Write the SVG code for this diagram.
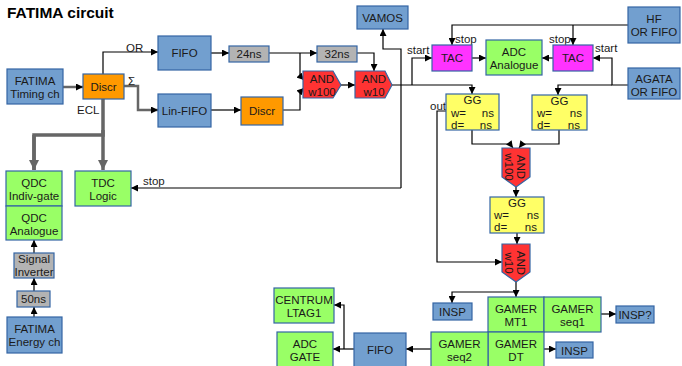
<svg xmlns="http://www.w3.org/2000/svg" width="682" height="366" viewBox="0 0 682 366">
<defs>
<marker id="ah" viewBox="0 0 10 10" refX="10" refY="5" markerWidth="8" markerHeight="7" markerUnits="userSpaceOnUse" orient="auto"><path d="M0,0 L10,5 L0,10 Z" fill="#000"/></marker>
<marker id="ahg" viewBox="0 0 10 10" refX="10" refY="5" markerWidth="10" markerHeight="10" markerUnits="userSpaceOnUse" orient="auto"><path d="M0,0 L10,5 L0,10 Z" fill="#666"/></marker>
</defs>
<style>
text{font-family:"Liberation Sans",Arial,sans-serif;font-size:11.5px;fill:#1a1a1a}
.c{text-anchor:middle}
.e{text-anchor:end}
.title{font-size:15.5px;font-weight:bold;fill:#000}
.n rect,.n polygon{stroke:#3465a4;stroke-width:1.2}
.blue{fill:#729fcf}
.org{fill:#ff9900}
.gry{fill:#b3b3b3}
.red{fill:#ff3333}
.mag{fill:#ff33ff}
.grn{fill:#99ff66}
.yel{fill:#ffff66}
.w path{fill:none;stroke:#000;stroke-width:1.2;marker-end:url(#ah)}
.w path.g{stroke:#666;stroke-width:2.5}
.w path.gg{stroke:#666;stroke-width:3.5;marker-end:url(#ahg)}
.w path.nm{marker-end:none}
</style>
<rect width="682" height="366" fill="#fff"/>
<text class="title" x="7" y="18">FATIMA circuit</text>

<g class="w" id="connectors">
<path class="g" d="M63,87 H83"/>
<path d="M103,74 V52 H158"/>
<path class="g" d="M124,86 H138 V110 H158"/>
<path class="gg nm" d="M103,99 V135 H34 V170"/>
<path class="gg" d="M34,135 V170"/>
<path class="gg" d="M103,130 V170"/>
<path d="M211,53 H229"/>
<path d="M269,53 H317"/>
<path d="M300,53 V76 L304,80"/>
<path d="M211,110 H241"/>
<path d="M283,110 H300 V92 L304,88"/>
<path d="M341,85 H355"/>
<path d="M357,53 H374 V71"/>
<path d="M392,85 H472 V94"/>
<path d="M412,85 V58 H432"/>
<path d="M401,188 V49 H383 V29"/>
<path d="M401,188 H131"/>
<path d="M628,25 H452 V45"/>
<path d="M573,25 V45"/>
<path d="M628,85 H612 V58 H593"/>
<path d="M612,85 H558 V95"/>
<path d="M472,58 H486"/>
<path d="M553,58 H542"/>
<path d="M446,111 H437 V262 H502"/>
<path d="M472,130 V144 H510 L513,148"/>
<path d="M559,130 V144 H522 L519,148"/>
<path d="M516,187 V197"/>
<path d="M517,233 V244"/>
<path d="M516,282 V297"/>
<path d="M516,292 H452 V303"/>
<path d="M601,314 H616"/>
<path d="M544,349 H556"/>
<path d="M431,349 H406"/>
<path d="M354,349 H333"/>
<path d="M344,349 V305 H334"/>
<path d="M34,317 V307"/>
<path d="M34,291 V278"/>
<path d="M34,253 V240"/>
</g>

<g id="labels">
<text x="126" y="52">OR</text>
<text x="128" y="85">Σ</text>
<text x="77" y="114">ECL</text>
<text x="143" y="185">stop</text>
<text x="407" y="54">start</text>
<text x="455" y="43">stop</text>
<text x="549" y="43">stop</text>
<text x="595" y="52">start</text>
<text x="430" y="110">out</text>
</g>

<g class="n" id="fatima-timing"><rect class="blue" x="7" y="69" width="56" height="35"/><text class="c" x="35" y="85">FATIMA</text><text class="c" x="35" y="97.5">Timing ch</text></g>
<g class="n" id="discr1"><rect class="org" x="83" y="74" width="41" height="25"/><text class="c" x="103.5" y="91">Discr</text></g>
<g class="n" id="fifo1"><rect class="blue" x="158" y="36" width="53" height="34"/><text class="c" x="184.5" y="57">FIFO</text></g>
<g class="n" id="linfifo"><rect class="blue" x="158" y="94" width="53" height="33"/><text class="c" x="184.5" y="115">Lin-FIFO</text></g>
<g class="n" id="d24"><rect class="gry" x="229" y="46" width="40" height="16"/><text class="c" x="249" y="58">24ns</text></g>
<g class="n" id="d32"><rect class="gry" x="317" y="46" width="40" height="16"/><text class="c" x="337" y="58">32ns</text></g>
<g class="n" id="discr2"><rect class="org" x="241" y="97" width="42" height="28"/><text class="c" x="262" y="115">Discr</text></g>
<g class="n" id="and100"><polygon class="red" points="303,71 333,71 341,85 333,98 303,98"/><text class="c" x="322" y="83">AND</text><text class="c" x="322" y="96">w100</text></g>
<g class="n" id="and10"><polygon class="red" points="355,71 385,71 392,85 385,98 355,98"/><text class="c" x="374" y="83">AND</text><text class="c" x="374" y="96">w10</text></g>
<g class="n" id="vamos"><rect class="blue" x="357" y="6" width="51" height="23"/><text class="c" x="382.5" y="22">VAMOS</text></g>
<g class="n" id="tac1"><rect class="mag" x="432" y="45" width="40" height="26"/><text class="c" x="452" y="62">TAC</text></g>
<g class="n" id="adc-analogue"><rect class="grn" x="486" y="40" width="56" height="35"/><text class="c" x="514" y="56">ADC</text><text class="c" x="514" y="68.5">Analogue</text></g>
<g class="n" id="tac2"><rect class="mag" x="553" y="45" width="40" height="26"/><text class="c" x="573" y="62">TAC</text></g>
<g class="n" id="hf"><rect class="blue" x="628" y="7" width="52" height="36"/><text class="c" x="654" y="23">HF</text><text class="c" x="654" y="36">OR FIFO</text></g>
<g class="n" id="agata"><rect class="blue" x="628" y="68" width="52" height="31"/><text class="c" x="654" y="83">AGATA</text><text class="c" x="654" y="96">OR FIFO</text></g>
<g class="n" id="gg1"><rect class="yel" x="446" y="94" width="53" height="36"/><text class="c" x="472.5" y="104">GG</text><text x="451" y="117">w=</text><text class="e" x="494" y="117">ns</text><text x="451" y="129">d=</text><text class="e" x="492" y="129">ns</text></g>
<g class="n" id="gg2"><rect class="yel" x="532" y="95" width="55" height="35"/><text class="c" x="559.5" y="105">GG</text><text x="537" y="117">w=</text><text class="e" x="582" y="117">ns</text><text x="537" y="129">d=</text><text class="e" x="580" y="129">ns</text></g>
<g class="n" id="and100v"><polygon class="red" points="502,148 530,148 530,177 516,187 502,177"/><text class="c" transform="translate(516,167) rotate(90)" y="-1">AND</text><text class="c" transform="translate(516,167) rotate(90)" y="11">w100</text></g>
<g class="n" id="gg3"><rect class="yel" x="490" y="197" width="54" height="36"/><text class="c" x="517" y="207">GG</text><text x="494" y="219">w=</text><text class="e" x="539" y="219">ns</text><text x="494" y="231">d=</text><text class="e" x="537" y="231">ns</text></g>
<g class="n" id="and10v"><polygon class="red" points="502,244 530,244 530,272 516,282 502,272"/><text class="c" transform="translate(516,263) rotate(90)" y="-1">AND</text><text class="c" transform="translate(516,263) rotate(90)" y="11">w10</text></g>
<g class="n" id="insp1"><rect class="blue" x="433" y="303" width="39" height="17"/><text class="c" x="452.5" y="316">INSP</text></g>
<g class="n" id="mt1"><rect class="grn" x="488" y="297" width="56" height="35"/><text class="c" x="516" y="313">GAMER</text><text class="c" x="516" y="326">MT1</text></g>
<g class="n" id="seq1"><rect class="grn" x="544" y="297" width="57" height="35"/><text class="c" x="572.5" y="313">GAMER</text><text class="c" x="572.5" y="326">seq1</text></g>
<g class="n" id="dt"><rect class="grn" x="488" y="332" width="56" height="35"/><text class="c" x="516" y="348">GAMER</text><text class="c" x="516" y="361">DT</text></g>
<g class="n" id="seq2"><rect class="grn" x="431" y="332" width="57" height="35"/><text class="c" x="459.5" y="348">GAMER</text><text class="c" x="459.5" y="361">seq2</text></g>
<g class="n" id="inspq"><rect class="blue" x="616" y="306" width="38" height="17"/><text class="c" x="635" y="319">INSP?</text></g>
<g class="n" id="insp2"><rect class="blue" x="556" y="342" width="37" height="16"/><text class="c" x="574.5" y="354.5">INSP</text></g>
<g class="n" id="fifo2"><rect class="blue" x="354" y="333" width="52" height="34"/><text class="c" x="380" y="354">FIFO</text></g>
<g class="n" id="centrum"><rect class="grn" x="274" y="288" width="60" height="35"/><text class="c" x="304" y="304">CENTRUM</text><text class="c" x="304" y="317">LTAG1</text></g>
<g class="n" id="adc-gate"><rect class="grn" x="277" y="332" width="56" height="35"/><text class="c" x="305" y="348">ADC</text><text class="c" x="305" y="361">GATE</text></g>
<g class="n" id="qdc-indiv"><rect class="grn" x="6" y="171" width="56" height="35"/><text class="c" x="34" y="187">QDC</text><text class="c" x="34" y="200">Indiv-gate</text></g>
<g class="n" id="qdc-analogue"><rect class="grn" x="6" y="206" width="56" height="34"/><text class="c" x="34" y="222">QDC</text><text class="c" x="34" y="235">Analogue</text></g>
<g class="n" id="tdc"><rect class="grn" x="75" y="171" width="56" height="35"/><text class="c" x="103" y="187">TDC</text><text class="c" x="103" y="200">Logic</text></g>
<g class="n" id="siginv"><rect class="gry" x="14" y="253" width="40" height="25"/><text class="c" x="34" y="263">Signal</text><text class="c" x="34" y="276">Inverter</text></g>
<g class="n" id="d50"><rect class="gry" x="17" y="291" width="33" height="16"/><text class="c" x="33.5" y="303">50ns</text></g>
<g class="n" id="fatima-energy"><rect class="blue" x="7" y="317" width="55" height="36"/><text class="c" x="34.5" y="333">FATIMA</text><text class="c" x="34.5" y="346">Energy ch</text></g>
</svg>
